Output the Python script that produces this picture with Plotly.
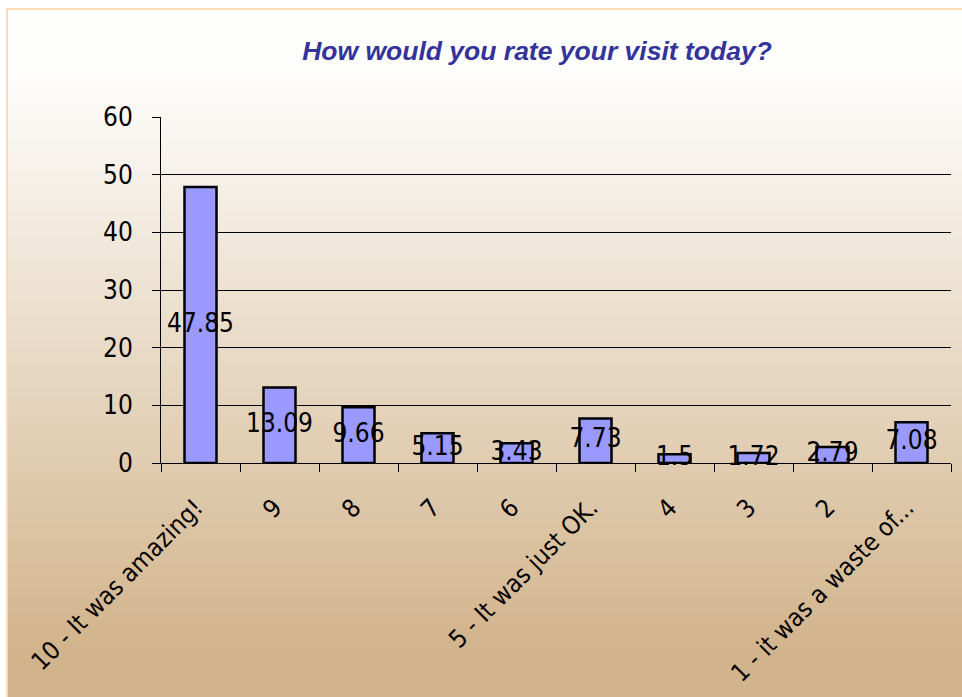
import plotly.graph_objects as go

categories = ["10 - It was amazing!", "9", "8", "7", "6", "5 - It was just OK.", "4", "3", "2", "1 - it was a waste of..."]
values = [47.85, 13.09, 9.66, 5.15, 3.43, 7.73, 1.5, 1.72, 2.79, 7.08]
value_labels = ["47.85", "13.09", "9.66", "5.15", "3.43", "7.73", "1.5", "1.72", "2.79", "7.08"]
y_ticks = [0, 10, 20, 30, 40, 50, 60]
title_text = "How would you rate your visit today?"

W, H = 962, 697
L, R, T, B = 161, 11, 117, 234
PW, PH = W - L - R, H - T - B
FONT = "DejaVu Sans Condensed, DejaVu Sans, sans-serif"

def px2x(px):
    return (px - L) / PW

def px2y(py):
    return (H - B - py) / PH

fig = go.Figure()
fig.add_trace(go.Bar(
    x=categories, y=values,
    marker=dict(color="#9999FF", line=dict(color="#000000", width=2.5)),
    hoverinfo="skip", showlegend=False,
))
fig.add_trace(go.Scatter(
    x=categories, y=[v / 2 for v in values], text=value_labels,
    mode="text", textposition="middle center",
    textfont=dict(family=FONT, size=26, color="#000000"),
    cliponaxis=False, showlegend=False, hoverinfo="skip",
))

# gradient background (white -> tan) as thin strips
shapes = []
top_px, bot_px = 9, H
g_start, g_end = 70, 650
n = 172
c0 = (254, 254, 253)
c1 = (210, 180, 140)
for i in range(n):
    y0 = top_px + (bot_px - top_px) * i / n
    y1 = top_px + (bot_px - top_px) * (i + 1) / n + 0.6
    ym = (y0 + y1) / 2
    f = min(1.0, max(0.0, (ym - g_start) / (g_end - g_start)))
    col = tuple(round(c0[k] + (c1[k] - c0[k]) * f) for k in range(3))
    shapes.append(dict(type="rect", xref="paper", yref="paper", layer="below",
                       x0=px2x(7), x1=px2x(W + 5), y0=px2y(y1), y1=px2y(y0),
                       fillcolor="rgb(%d,%d,%d)" % col, line=dict(width=0)))
shapes.append(dict(type="rect", xref="paper", yref="paper", layer="below",
                   x0=px2x(7), x1=px2x(W + 10), y0=px2y(H + 10), y1=px2y(9),
                   fillcolor="rgba(0,0,0,0)", line=dict(color="#FCDDB6", width=2)))

fig.update_layout(
    width=W, height=H,
    margin=dict(l=L, r=R, t=T, b=B, pad=0),
    paper_bgcolor="#FFFFFF", plot_bgcolor="rgba(0,0,0,0)",
    bargap=0.595,
    shapes=shapes,
    title=dict(text=title_text, x=537 / W, xanchor="center", xref="container",
               y=1 - 51 / H, yanchor="middle", yref="container",
               font=dict(family="Liberation Sans, Arial, sans-serif", size=26.5,
                         color="#333399", weight="bold", style="italic")),
    xaxis=dict(type="category", tickson="boundaries", ticks="outside", ticklen=8,
               tickcolor="#000000", tickwidth=1, showline=True, linecolor="#000000",
               linewidth=1, tickangle=-45, showgrid=False, ticklabelstandoff=14,
               tickvals=categories, ticktext=[c + "\u00a0" for c in categories],
               tickfont=dict(family=FONT, size=25, color="#000000")),
    yaxis=dict(range=[0, 60], tickvals=y_ticks, ticks="outside", ticklen=8,
               tickcolor="#000000", showline=True, linecolor="#000000", linewidth=1,
               showgrid=True, gridcolor="#000000", gridwidth=1, zeroline=False,
               ticklabelstandoff=14,
               tickfont=dict(family=FONT, size=26, color="#000000")),
)
fig.write_html("out.html")
